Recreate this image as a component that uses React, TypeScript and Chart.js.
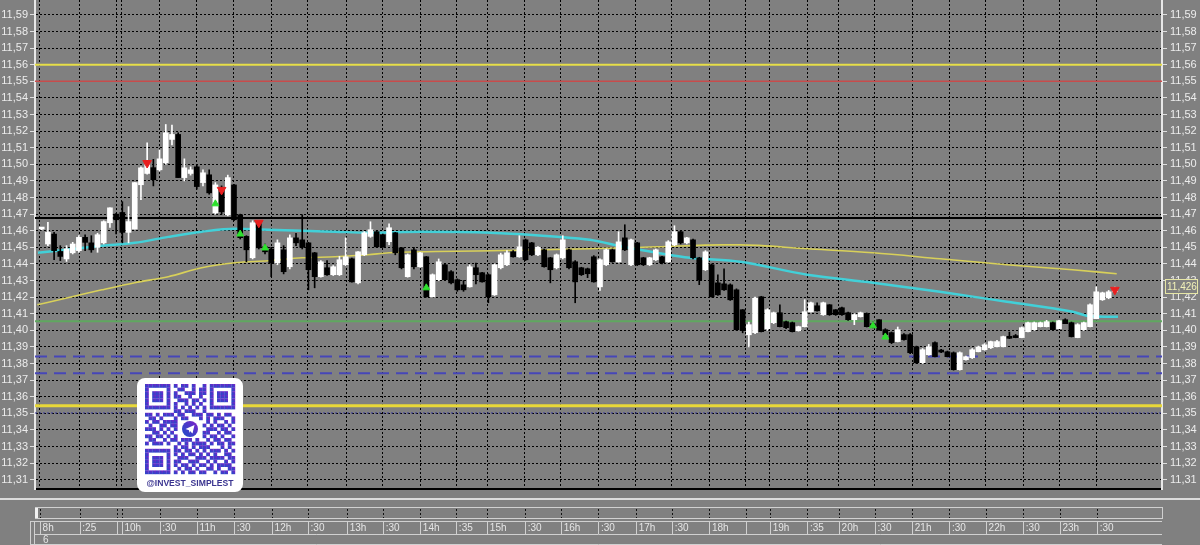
import React, { useEffect, useRef } from "react";
import { Chart, registerables } from "chart.js";
Chart.register(...registerables);

const FONT = "'Liberation Sans', Arial, sans-serif";

// ---- candles (index = bar number) ----
const opens = [
  11.461, 11.452, 11.458, 11.4475, 11.443, 11.4467, 11.448, 11.456, 11.4527, 11.45,
  11.4527, 11.4648, 11.47, 11.471, 11.459, 11.461, 11.4877, 11.4945, 11.498, 11.4967,
  11.501, 11.515, 11.518, 11.492, 11.4945, 11.4985, 11.489, 11.4937, 11.4708, 11.4858,
  11.4696, 11.4876, 11.4696, 11.4566, 11.4437, 11.4648, 11.4503, 11.449, 11.4407, 11.4485,
  11.4383, 11.4557, 11.4545, 11.4527, 11.4467, 11.4323, 11.4377, 11.4335, 11.4335, 11.4395,
  11.4431, 11.4286, 11.4455, 11.4566, 11.4594, 11.4576, 11.4534, 11.4588, 11.4497, 11.4323,
  11.4485, 11.4383, 11.4443, 11.4202, 11.4305, 11.4395, 11.4353, 11.4305, 11.4274, 11.4262,
  11.4377, 11.4347, 11.4335, 11.4214, 11.4377, 11.4395, 11.4473, 11.4443, 11.4545, 11.4527,
  11.4455, 11.4485, 11.4437, 11.4377, 11.4437, 11.4485, 11.4413, 11.4377, 11.4371, 11.4443,
  11.4262, 11.4395, 11.4485, 11.4413, 11.4557, 11.4395, 11.4527, 11.4437, 11.4395, 11.4425,
  11.4443, 11.4413, 11.4515, 11.4594, 11.4527, 11.4545, 11.4437, 11.4365, 11.4395, 11.4286,
  11.428, 11.4274, 11.4244, 11.4124, 11.3973, 11.3986, 11.4202, 11.401, 11.4046, 11.4106,
  11.4052, 11.4046, 11.3998, 11.4022, 11.4112, 11.4148, 11.4094, 11.4154, 11.4124, 11.4136,
  11.4106, 11.4064, 11.4082, 11.41, 11.404, 11.4064, 11.4004, 11.3986, 11.3932, 11.3974,
  11.3974, 11.3901, 11.3805, 11.3853, 11.3926, 11.3873, 11.3871, 11.3865, 11.3763, 11.3823,
  11.3835, 11.3871, 11.3883, 11.3895, 11.3901, 11.3901, 11.3962, 11.3962, 11.3956, 11.3992,
  11.4004, 11.4022, 11.4022, 11.4046, 11.401, 11.4064, 11.4046, 11.3956, 11.4004, 11.4022,
  11.407, 11.4184, 11.4196, 11.4232,
];
const closes = [
  11.461, 11.459, 11.448, 11.4445, 11.449, 11.452, 11.456, 11.453, 11.4485, 11.4576,
  11.4655, 11.4738, 11.4666, 11.459, 11.4655, 11.489, 11.4979, 11.501, 11.4907, 11.5033,
  11.519, 11.518, 11.492, 11.4979, 11.4967, 11.4866, 11.4949, 11.4828, 11.4876, 11.4714,
  11.492, 11.4666, 11.4558, 11.4485, 11.4648, 11.4497, 11.4473, 11.4407, 11.4527, 11.4353,
  11.4557, 11.4527, 11.45, 11.4365, 11.4323, 11.4413, 11.4335, 11.4383, 11.4425, 11.4443,
  11.4292, 11.4473, 11.4588, 11.4606, 11.4503, 11.4503, 11.4618, 11.4467, 11.4377, 11.4455,
  11.4383, 11.4467, 11.4202, 11.4335, 11.4413, 11.4305, 11.4286, 11.4244, 11.4244, 11.4383,
  11.4335, 11.4292, 11.4202, 11.4395, 11.4455, 11.4467, 11.4443, 11.4503, 11.4425, 11.4455,
  11.45, 11.4383, 11.4365, 11.4455, 11.4545, 11.4377, 11.4292, 11.4335, 11.4341, 11.4292,
  11.4425, 11.4485, 11.4413, 11.4533, 11.4485, 11.4545, 11.4395, 11.4395, 11.4437, 11.4485,
  11.4407, 11.4533, 11.4594, 11.4527, 11.4557, 11.4437, 11.4305, 11.4473, 11.4202, 11.4214,
  11.4244, 11.4184, 11.4004, 11.3998, 11.4034, 11.4196, 11.3992, 11.4124, 11.4106, 11.4022,
  11.4016, 11.3992, 11.4022, 11.4112, 11.4166, 11.4118, 11.4166, 11.4094, 11.4094, 11.4094,
  11.4064, 11.4094, 11.4106, 11.4022, 11.402, 11.4004, 11.3974, 11.3926, 11.4004, 11.3944,
  11.3865, 11.3805, 11.3883, 11.3901, 11.3841, 11.3869, 11.3841, 11.3763, 11.3865, 11.3841,
  11.3883, 11.3901, 11.3913, 11.3932, 11.3932, 11.3962, 11.3952, 11.3956, 11.4016, 11.4046,
  11.4046, 11.4046, 11.4052, 11.4004, 11.4058, 11.404, 11.3962, 11.4034, 11.4046, 11.4154,
  11.4232, 11.4226, 11.4232, 11.4256,
];
const highs = [
  11.4615, 11.465, 11.459, 11.451, 11.451, 11.453, 11.457, 11.4575, 11.457, 11.4585,
  11.466, 11.4738, 11.4705, 11.4775, 11.4745, 11.489, 11.4985, 11.513, 11.503, 11.5087,
  11.524, 11.5237, 11.519, 11.5033, 11.4985, 11.4995, 11.4967, 11.4967, 11.489, 11.487,
  11.4935, 11.488, 11.47, 11.457, 11.466, 11.465, 11.452, 11.45, 11.4545, 11.451,
  11.4575, 11.4585, 11.4696, 11.453, 11.447, 11.442, 11.442, 11.439, 11.4445, 11.4557,
  11.4435, 11.4475, 11.4595, 11.4654, 11.46, 11.458, 11.4642, 11.459, 11.45, 11.446,
  11.45, 11.447, 11.4445, 11.434, 11.443, 11.44, 11.436, 11.431, 11.43, 11.4395,
  11.4405, 11.435, 11.434, 11.44, 11.4465, 11.448, 11.448, 11.457, 11.455, 11.453,
  11.4505, 11.449, 11.444, 11.446, 11.457, 11.449, 11.442, 11.438, 11.4375, 11.445,
  11.443, 11.449, 11.449, 11.4594, 11.4636, 11.455, 11.453, 11.444, 11.444, 11.449,
  11.4445, 11.454, 11.463, 11.46, 11.456, 11.455, 11.444, 11.448, 11.44, 11.4335,
  11.437, 11.428, 11.425, 11.4125, 11.405, 11.42, 11.4205, 11.413, 11.411, 11.4154,
  11.4055, 11.405, 11.4025, 11.4184, 11.417, 11.4165, 11.417, 11.4155, 11.4125, 11.414,
  11.411, 11.41, 11.411, 11.4105, 11.405, 11.4065, 11.401, 11.399, 11.402, 11.398,
  11.398, 11.3905, 11.389, 11.3915, 11.393, 11.3885, 11.3875, 11.387, 11.387, 11.3845,
  11.389, 11.3905, 11.392, 11.3935, 11.394, 11.3965, 11.399, 11.3975, 11.402, 11.405,
  11.405, 11.405, 11.406, 11.405, 11.406, 11.407, 11.405, 11.404, 11.405, 11.416,
  11.4262, 11.423, 11.424, 11.426,
];
const lows = [
  11.4605, 11.451, 11.4425, 11.442, 11.4415, 11.446, 11.447, 11.448, 11.447, 11.447,
  11.452, 11.462, 11.458, 11.4527, 11.4527, 11.461, 11.4787, 11.494, 11.487, 11.496,
  11.5, 11.5117, 11.492, 11.49, 11.4935, 11.485, 11.487, 11.482, 11.47, 11.47,
  11.469, 11.466, 11.455, 11.4413, 11.443, 11.449, 11.446, 11.4323, 11.4395, 11.434,
  11.437, 11.451, 11.449, 11.4244, 11.4256, 11.432, 11.433, 11.433, 11.433, 11.439,
  11.429, 11.428, 11.445, 11.456, 11.45, 11.45, 11.4516, 11.4455, 11.437, 11.432,
  11.437, 11.438, 11.42, 11.42, 11.43, 11.43, 11.428, 11.4235, 11.4235, 11.426,
  11.428, 11.429, 11.4166, 11.421, 11.437, 11.439, 11.444, 11.444, 11.442, 11.445,
  11.445, 11.438, 11.4286, 11.437, 11.443, 11.437, 11.4166, 11.433, 11.4317, 11.429,
  11.424, 11.439, 11.441, 11.441, 11.448, 11.439, 11.439, 11.439, 11.439, 11.442,
  11.44, 11.441, 11.451, 11.452, 11.452, 11.443, 11.4275, 11.436, 11.42, 11.421,
  11.424, 11.418, 11.4, 11.3985, 11.39, 11.398, 11.399, 11.4, 11.404, 11.402,
  11.401, 11.399, 11.3995, 11.402, 11.411, 11.4115, 11.409, 11.409, 11.409, 11.409,
  11.406, 11.4034, 11.408, 11.402, 11.4015, 11.4, 11.397, 11.392, 11.393, 11.394,
  11.386, 11.38, 11.38, 11.385, 11.384, 11.3865, 11.384, 11.376, 11.376, 11.382,
  11.383, 11.387, 11.388, 11.389, 11.39, 11.39, 11.395, 11.3955, 11.3955, 11.399,
  11.4, 11.402, 11.402, 11.4, 11.401, 11.404, 11.396, 11.3955, 11.4, 11.402,
  11.407, 11.418, 11.419, 11.423,
];

// ---- moving averages (bar index, price) ----
const maFastX = [-0.6, 9.7, 15, 20.4, 25.8, 31.2, 36.5, 42, 47.3, 52.6, 61.5, 72.3, 83.1, 88.4, 93.7, 99.2, 104.5, 112.6, 123.4, 134, 144.8, 155.6, 166.2, 169, 173.5];
const maFastY = [11.4467, 11.4509, 11.4527, 11.4563, 11.4594, 11.4612, 11.4606, 11.46, 11.4594, 11.4588, 11.4594, 11.4588, 11.4564, 11.4545, 11.4503, 11.4467, 11.4437, 11.4413, 11.4335, 11.4287, 11.4232, 11.4172, 11.4112, 11.4085, 11.4082];
const maSlowX = [-0.7, 4.2, 9.7, 15, 20.4, 25.8, 31.2, 36.5, 42, 47.3, 52.6, 56, 72.3, 88.4, 99.2, 109.8, 112.6, 123.4, 134, 144.8, 155.6, 166.2, 173.3];
const maSlowY = [11.4154, 11.4196, 11.4244, 11.4287, 11.4323, 11.4377, 11.4407, 11.4419, 11.4437, 11.4443, 11.4455, 11.4467, 11.4479, 11.4491, 11.4503, 11.4515, 11.4515, 11.4491, 11.4467, 11.4431, 11.4395, 11.4365, 11.4341];

// ---- horizontal levels ----
const levelValues = [11.56, 11.55, 11.4677, 11.4055, 11.3843, 11.3742, 11.3545, 11.3502];
const levelColors = ["#e6de48", "#c84c4c", "#000000", "#5fa85f", "#4646b8", "#4646b8", "#e8d838", "#3a3a9a"];
const levelWidths = [2, 1.5, 2, 2, 2, 2, 3, 1];
const levelDashes = [[], [], [], [], [12, 7], [12, 7], [], [2, 2]];

// ---- signal markers ----
const sellIdx = [17, 29, 35, 173];
const sellPrice = [11.5008, 11.4846, 11.4648, 11.4244];
const buyIdx = [28, 32, 36, 62, 134, 136];
const buyPrice = [11.4762, 11.458, 11.4496, 11.4256, 11.4027, 11.396];

// ---- axes ----
const yTicks = [11.31, 11.32, 11.33, 11.34, 11.35, 11.36, 11.37, 11.38, 11.39, 11.4, 11.41, 11.42, 11.43, 11.44, 11.45, 11.46, 11.47, 11.48, 11.49, 11.5, 11.51, 11.52, 11.53, 11.54, 11.55, 11.56, 11.57, 11.58, 11.59];
const timeTicks = [-0.3, 6.1, 12.1, 12.9, 19, 25, 31, 37.1, 42.9, 49.2, 55, 61, 66.8, 71.8, 77.9, 83.7, 89.7, 95.8, 101.6, 107.6, 113.5, 117.4, 123.4, 128.5, 134.3, 140.3, 146.3, 152.2, 158.2, 164.1, 170.1];
const timeLabels = ["8h", ":25", "", "10h", ":30", "11h", ":30", "12h", ":30", "13h", ":30", "14h", ":35", "15h", ":30", "16h", ":30", "17h", ":30", "18h", "", "19h", ":35", "20h", ":30", "21h", ":30", "22h", ":30", "23h", ":30"];
const lastPrice = 11.426;
const Y_MIN = 11.3044;
const Y_MAX = 11.599;
const X_MIN = -1.08;
const X_MAX = 180.6;

const fmt = (v: number, d = 2) => v.toFixed(d).replace(".", ",");

const qrRows = [
  "1111111" + "0" + "101101001" + "0" + "1111111",
  "1000001" + "0" + "011001011" + "0" + "1000001",
  "1011101" + "0" + "100111011" + "0" + "1011101",
  "1011101" + "0" + "110010010" + "0" + "1011101",
  "1011101" + "0" + "011101101" + "0" + "1011101",
  "1000001" + "0" + "100101010" + "0" + "1000001",
  "1111111" + "0" + "101010101" + "0" + "1111111",
  "00000000" + "110111001" + "00000000",
  "1101011101100111011010110",
  "0110100010110001010111001",
  "101101111" + "0000000" + "010100101",
  "010011011" + "0000000" + "101011010",
  "111010101" + "0000000" + "011101101",
  "001101010" + "0000000" + "110010110",
  "110110101" + "0000000" + "101101001",
  "0110010110111010010110110",
  "1011101001010111101011011",
  "00000000" + "10110101110001010",
  "1111111" + "0" + "11011010101110101",
  "1000001" + "0" + "10101101010100110",
  "1011101" + "0" + "01110011101111011",
  "1011101" + "0" + "11001110010100101",
  "1011101" + "0" + "10110101101011110",
  "1000001" + "0" + "01011010011010011",
  "1111111" + "0" + "10101101100101101",
];

function QrBadge() {
  const m = 3.6;
  const ox = 8;
  const oy = 6;
  const rects: any[] = [];
  qrRows.forEach((row, r) => {
    for (let c = 0; c < row.length; c++) {
      if (row[c] === "1") rects.push(<rect key={r + "-" + c} x={ox + c * m} y={oy + r * m} width={m + 0.2} height={m + 0.2} />);
    }
  });
  const cx = ox + 12.5 * m;
  const cy = oy + 12.5 * m;
  return (
    <svg width={106} height={114} style={{ position: "absolute", left: 137, top: 378 }}>
      <defs>
        <linearGradient id="qg" x1="0" y1="1" x2="1" y2="0">
          <stop offset="0" stopColor="#1e4fc8" />
          <stop offset="0.55" stopColor="#4a38c8" />
          <stop offset="1" stopColor="#8a1ec8" />
        </linearGradient>
      </defs>
      <rect x={0} y={0} width={106} height={114} rx={8} fill="#ffffff" />
      <g fill="url(#qg)">{rects}</g>
      <circle cx={cx} cy={cy} r={8} fill="url(#qg)" />
      <polygon points={`${cx - 4.5},${cy} ${cx + 4.5},${cy - 4} ${cx + 2.5},${cy + 4.5} ${cx},${cy + 2} ${cx - 1},${cy + 4} ${cx - 1},${cy + 1.2}`} fill="#ffffff" />
      <text x={53} y={108} textAnchor="middle" fontFamily={FONT} fontWeight="bold" fontSize="8.6" fill="#3b3590">@INVEST_SIMPLEST</text>
    </svg>
  );
}

export default function App() {
  const ref = useRef<HTMLCanvasElement | null>(null);

  useEffect(() => {
    if (!ref.current) return;
    const white = "#ffffff";
    const black = "#000000";
    const up = opens.map((o, i) => closes[i] >= o);

    const bodies = opens.map((o, i) => ({ x: i, y: [o, closes[i]] }));
    const wicks = opens.map((_, i) => ({ x: i, y: [lows[i], highs[i]] }));
    const colors = up.map((u) => (u ? white : black));

    const levelSets = levelValues.map((v, k) => ({
      type: "line",
      data: [{ x: X_MIN, y: v }, { x: X_MAX, y: v }],
      borderColor: levelColors[k],
      borderWidth: levelWidths[k],
      borderDash: levelDashes[k],
      pointRadius: 0,
      order: 6,
      yAxisID: "y",
    }));

    const stripPlugin = {
      id: "strips",
      afterDraw(chart: any) {
        const { ctx, scales } = chart;
        const xs = scales.x;
        const ys = scales.y;
        const L = chart.chartArea.left;
        const R = chart.chartArea.right;
        ctx.save();
        ctx.fillStyle = "#dcdcdc";
        ctx.fillRect(0, 498, 1200, 2);
        // scroll strip
        ctx.strokeStyle = "#d0d0d0";
        ctx.lineWidth = 1;
        ctx.strokeRect(L + 0.5, 507.5, R - L, 11);
        ctx.fillStyle = "#f2f2f2";
        ctx.fillRect(L, 508, 3, 10);
        ctx.strokeStyle = "#111111";
        ctx.setLineDash([2, 2]);
        timeTicks.forEach((t) => {
          const px = Math.round(xs.getPixelForValue(t)) + 0.5;
          ctx.beginPath();
          ctx.moveTo(px, 509);
          ctx.lineTo(px, 518);
          ctx.stroke();
        });
        ctx.setLineDash([]);
        // label strip
        ctx.strokeStyle = "#d0d0d0";
        ctx.beginPath();
        ctx.moveTo(L, 521.5);
        ctx.lineTo(R, 521.5);
        ctx.moveTo(L, 534.5);
        ctx.lineTo(R, 534.5);
        ctx.stroke();
        ctx.strokeRect(30.5, 521.5, 4, 23);
        timeTicks.forEach((t) => {
          const px = Math.round(xs.getPixelForValue(t)) + 0.5;
          ctx.beginPath();
          ctx.moveTo(px, 522);
          ctx.lineTo(px, 534);
          ctx.stroke();
        });
        ctx.beginPath();
        ctx.moveTo(L, 544.5);
        ctx.lineTo(R, 544.5);
        ctx.stroke();
        ctx.fillStyle = "#e4e4e4";
        ctx.font = "10px " + FONT;
        ctx.textBaseline = "middle";
        ctx.textAlign = "left";
        ctx.fillText("6", L + 8, 540);
        // last price tag
        const py = Math.round(ys.getPixelForValue(lastPrice));
        ctx.fillStyle = "#808080";
        ctx.fillRect(1165, py - 8, 33, 15);
        ctx.strokeStyle = "#e6e6a6";
        ctx.strokeRect(1165.5, py - 7.5, 32, 14);
        ctx.fillStyle = "#f2f2b8";
        ctx.fillText(fmt(lastPrice, 3), 1167, py);
        ctx.restore();
      },
    };

    const chart = new Chart(ref.current, {
      type: "bar",
      data: {
        datasets: [
          ...levelSets,
          {
            type: "line",
            data: maSlowX.map((x, i) => ({ x, y: maSlowY[i] })),
            borderColor: "#d8d05a",
            borderWidth: 1.6,
            pointRadius: 0,
            tension: 0.4,
            cubicInterpolationMode: "monotone",
            order: 5,
            yAxisID: "y",
          },
          {
            type: "line",
            data: maFastX.map((x, i) => ({ x, y: maFastY[i] })),
            borderColor: "#42d0d8",
            borderWidth: 2.5,
            pointRadius: 0,
            tension: 0.4,
            cubicInterpolationMode: "monotone",
            order: 4,
            yAxisID: "y",
          },
          {
            type: "bar",
            data: wicks,
            backgroundColor: colors,
            borderWidth: 0,
            barThickness: 1,
            grouped: false,
            minBarLength: 1,
            order: 3,
            yAxisID: "y",
          },
          {
            type: "bar",
            data: bodies,
            backgroundColor: colors,
            borderWidth: 0,
            barThickness: 5,
            grouped: false,
            minBarLength: 2,
            order: 2,
            yAxisID: "y",
          },
          {
            type: "scatter",
            data: sellIdx.map((x, i) => ({ x, y: sellPrice[i] })),
            pointStyle: "triangle",
            rotation: 180,
            pointRadius: 5,
            backgroundColor: "#e82020",
            borderColor: "#e82020",
            borderWidth: 1,
            order: 1,
            yAxisID: "y",
          },
          {
            type: "scatter",
            data: buyIdx.map((x, i) => ({ x, y: buyPrice[i] })),
            pointStyle: "triangle",
            pointRadius: 4,
            backgroundColor: "#2ee02e",
            borderColor: "#2ee02e",
            borderWidth: 1,
            order: 1,
            yAxisID: "y",
          },
        ] as any,
      },
      options: {
        responsive: false,
        animation: false,
        events: [],
        layout: { padding: 0, autoPadding: false },
        plugins: { legend: { display: false }, tooltip: { enabled: false } },
        scales: {
          x: {
            type: "linear",
            min: X_MIN,
            max: X_MAX,
            offset: false,
            grid: { color: "#000000", lineWidth: 1, drawTicks: false, offset: false },
            border: { display: true, color: "#000000", width: 2, dash: [2, 2] },
            ticks: {
              align: "start",
              autoSkip: false,
              maxRotation: 0,
              minRotation: 0,
              padding: 33,
              color: "#e6e6e6",
              font: { family: FONT, size: 10 },
              callback: (_v: any, i: number) => " " + (timeLabels[i] ?? ""),
            },
            afterBuildTicks: (ax: any) => {
              ax.ticks = timeTicks.map((v) => ({ value: v }));
            },
            afterFit: (ax: any) => {
              ax.height = 56;
              ax.paddingLeft = 0;
              ax.paddingRight = 0;
            },
          },
          y: {
            type: "linear",
            position: "left",
            min: Y_MIN,
            max: Y_MAX,
            grid: { color: "#000000", lineWidth: 1, tickLength: 5, tickColor: "#e0e0e0", tickWidth: 1 },
            border: { display: true, color: "#e8e8e8", width: 2, dash: [2, 2] },
            ticks: {
              color: "#ececec",
              padding: 2,
              font: { family: FONT, size: 11 },
              callback: (v: any) => fmt(Number(v)),
            },
            afterBuildTicks: (ax: any) => {
              ax.ticks = yTicks.map((v) => ({ value: v }));
            },
            afterFit: (ax: any) => {
              ax.width = 35;
              ax.paddingTop = 0;
              ax.paddingBottom = 0;
            },
          },
          y2: {
            type: "linear",
            position: "right",
            min: Y_MIN,
            max: Y_MAX,
            grid: { drawOnChartArea: false, tickLength: 5, tickColor: "#e0e0e0", tickWidth: 1 },
            border: { display: true, color: "#e8e8e8", width: 2 },
            ticks: {
              color: "#ececec",
              padding: 3,
              font: { family: FONT, size: 11 },
              callback: (v: any) => fmt(Number(v)),
            },
            afterBuildTicks: (ax: any) => {
              ax.ticks = yTicks.map((v) => ({ value: v }));
            },
            afterFit: (ax: any) => {
              ax.width = 38;
              ax.paddingTop = 0;
              ax.paddingBottom = 0;
            },
          },
        },
      } as any,
      plugins: [stripPlugin],
    });
    return () => chart.destroy();
  }, []);

  return (
    <div style={{ position: "absolute", left: 0, top: 0, width: 1200, height: 545, background: "#808080", overflow: "hidden" }}>
      <canvas ref={ref} width={1200} height={545} style={{ display: "block" }} />
      <QrBadge />
    </div>
  );
}
